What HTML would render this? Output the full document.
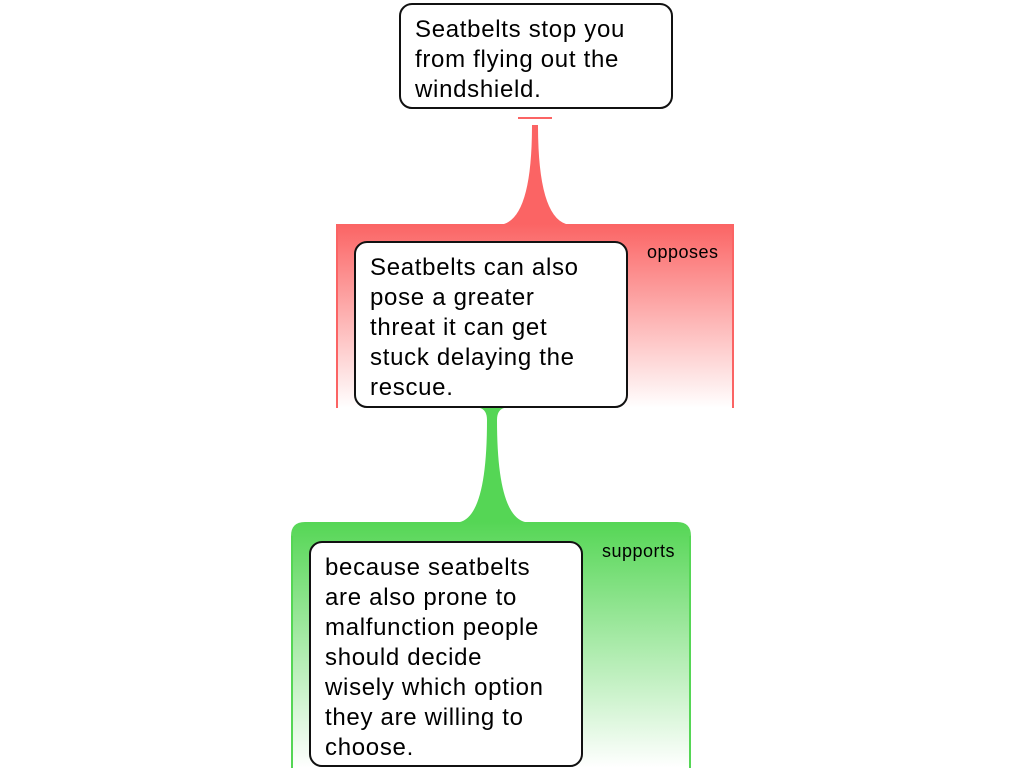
<!DOCTYPE html>
<html><head><style>
body{margin:0;width:1024px;height:768px;background:#fff;position:relative;overflow:hidden;font-family:"Liberation Sans",Arial,sans-serif}
.box{position:absolute;background:#fff;border:2px solid #111;border-radius:13px;box-sizing:border-box;padding:10px 14px;font-size:24px;line-height:30px;color:#000;letter-spacing:0.7px;white-space:nowrap}
.lbl{position:absolute;font-size:18px;color:#000;letter-spacing:0.5px}
</style></head><body>
<svg width="1024" height="768" style="position:absolute;left:0;top:0">
<defs>
<linearGradient id="r" x1="0" y1="0" x2="0" y2="1"><stop offset="0" stop-color="#fb6464"/><stop offset="1" stop-color="#fb6464" stop-opacity="0"/></linearGradient>
<linearGradient id="g" x1="0" y1="0" x2="0" y2="1"><stop offset="0" stop-color="#55d655"/><stop offset="1" stop-color="#55d655" stop-opacity="0"/></linearGradient>
</defs>
<rect x="518" y="117" width="34" height="2" fill="#fb6464"/>
<path d="M532,125 L538,125 Q538,215 566,224 L504,224 Q532,215 532,125Z" fill="#fb6464"/>
<rect x="336" y="224" width="398" height="184" fill="url(#r)"/>
<rect x="336" y="224" width="2" height="184" fill="#fb6464"/>
<rect x="732" y="224" width="2" height="184" fill="#fb6464"/>
<path d="M480,408 L504,408 Q497,410 497,420 Q497,515 525,522 L460,522 Q487,515 487,420 Q487,410 480,408Z" fill="#55d655"/>
<path d="M291,768 L291,536 Q291,522 305,522 L677,522 Q691,522 691,536 L691,768Z" fill="url(#g)"/>
<rect x="291" y="536" width="2" height="232" fill="#55d655"/>
<rect x="689" y="536" width="2" height="232" fill="#55d655"/>
</svg>
<div class="box" style="left:399px;top:3px;width:274px;height:106px">Seatbelts stop you<br>from flying out the<br>windshield.</div>
<div class="box" style="left:354px;top:241px;width:274px;height:167px">Seatbelts can also<br>pose a greater<br>threat it can get<br>stuck delaying the<br>rescue.</div>
<div class="lbl" style="left:647px;top:242px">opposes</div>
<div class="box" style="left:309px;top:541px;width:274px;height:226px">because seatbelts<br>are also prone to<br>malfunction people<br>should decide<br>wisely which option<br>they are willing to<br>choose.</div>
<div class="lbl" style="left:602px;top:541px">supports</div>
</body></html>
